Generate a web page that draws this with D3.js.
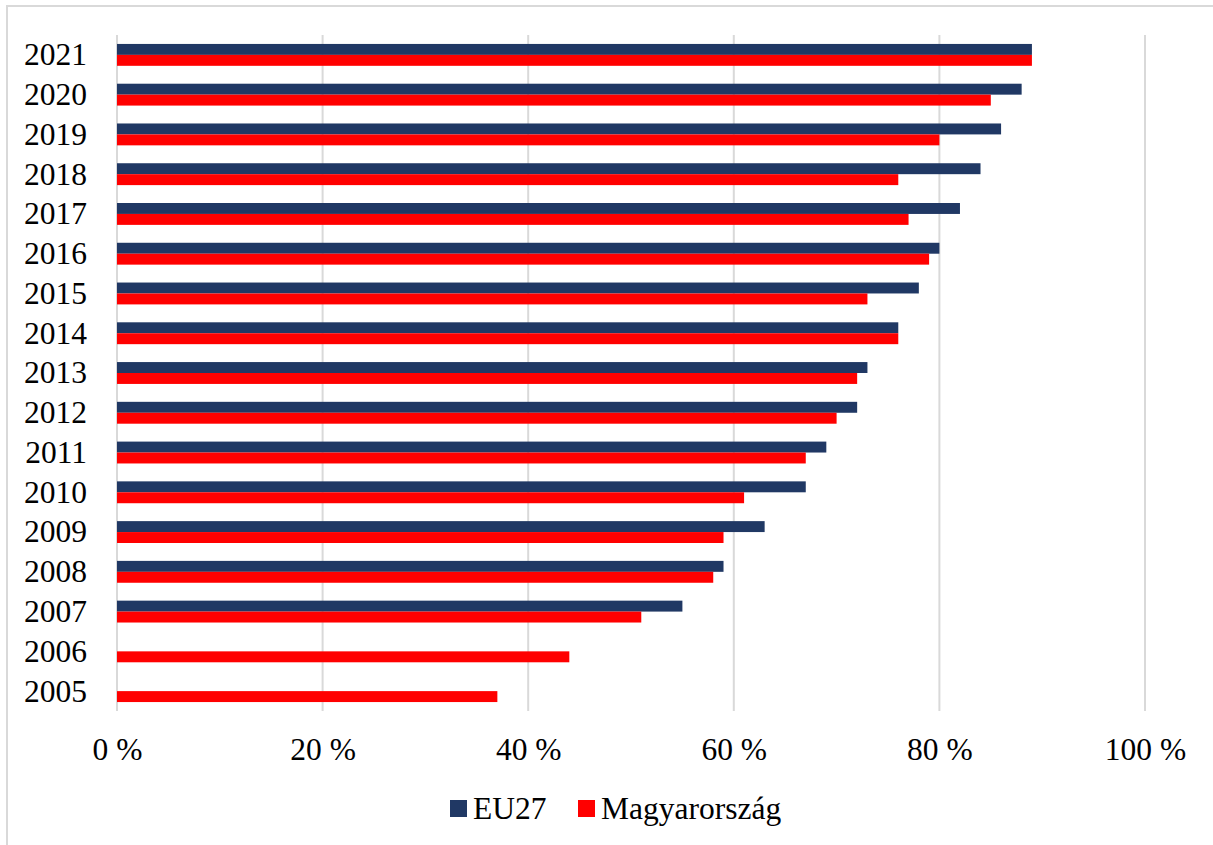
<!DOCTYPE html>
<html><head><meta charset="utf-8">
<script src="https://cdn.jsdelivr.net/npm/d3@7"></script>
<style>
html,body{margin:0;padding:0;background:#fff;}
svg text{font-family:"Liberation Serif","Times New Roman",serif;fill:#000;}
</style></head>
<body>
<svg id="chart" width="1213" height="845"></svg>
<script>
const years = ["2021","2020","2019","2018","2017","2016","2015","2014","2013","2012","2011","2010","2009","2008","2007","2006","2005"];
const eu27 = [89,88,86,84,82,80,78,76,73,72,69,67,63,59,55,null,null];
const hungary = [89,85,80,76,77,79,73,76,72,70,67,61,59,58,51,44,37];
const xTicks = [0,20,40,60,80,100];
const seriesNames = ["EU27","Magyarország"];
const colors = ["#203864","#FF0000"];

const svg = d3.select("#chart");
const FS = 31.5;
// outer border
svg.append("rect").attr("x",7).attr("y",6).attr("width",1213).attr("height",845)
  .attr("fill","none").attr("stroke","#d9d9d9").attr("stroke-width",2);

const pL=117, pR=1145, pT=35, pB=711;
const x = d3.scaleLinear().domain([0,100]).range([pL,pR]);
const y = d3.scaleBand().domain(years).range([pT,pB]).paddingInner(0.45).paddingOuter(0.225);
const ys = d3.scaleBand().domain([0,1]).range([0,y.bandwidth()]);

// gridlines
svg.append("g").selectAll("line").data(xTicks).join("line")
  .attr("x1",d=>x(d)).attr("x2",d=>x(d)).attr("y1",pT).attr("y2",pB)
  .attr("stroke","#d9d9d9").attr("stroke-width",2);

// bars
const rows = years.map((yr,i)=>({yr, vals:[eu27[i],hungary[i]]}));
const g = svg.append("g");
rows.forEach(r=>{
  r.vals.forEach((v,k)=>{
    if(v==null) return;
    g.append("rect").attr("x",x(0)).attr("y",y(r.yr)+ys(k))
      .attr("width",x(v)-x(0)).attr("height",ys.bandwidth())
      .attr("fill",colors[k]);
  });
});

// y labels
const yAxis = d3.axisLeft(y).tickSize(0).tickPadding(30);
const ya = svg.append("g").attr("transform",`translate(${pL},0)`).call(yAxis);
ya.select(".domain").remove();
ya.selectAll("text").attr("font-size",FS).attr("font-family","Liberation Serif").attr("dy","0.33em");

// x labels
const xAxis = d3.axisBottom(x).tickValues(xTicks).tickSize(0).tickPadding(0).tickFormat(d=>d+" %");
const xa = svg.append("g").attr("transform",`translate(0,760)`).call(xAxis);
xa.select(".domain").remove();
xa.selectAll("text").attr("font-size",FS).attr("font-family","Liberation Serif").attr("dy","0").attr("y",0);

// legend
const legX=[450,578];
seriesNames.forEach((n,k)=>{
  svg.append("rect").attr("x",legX[k]).attr("y",800).attr("width",17).attr("height",17).attr("fill",colors[k]);
  svg.append("text").attr("x",legX[k]+23).attr("y",819).attr("font-size",FS).text(n);
});
</script>
</body></html>
